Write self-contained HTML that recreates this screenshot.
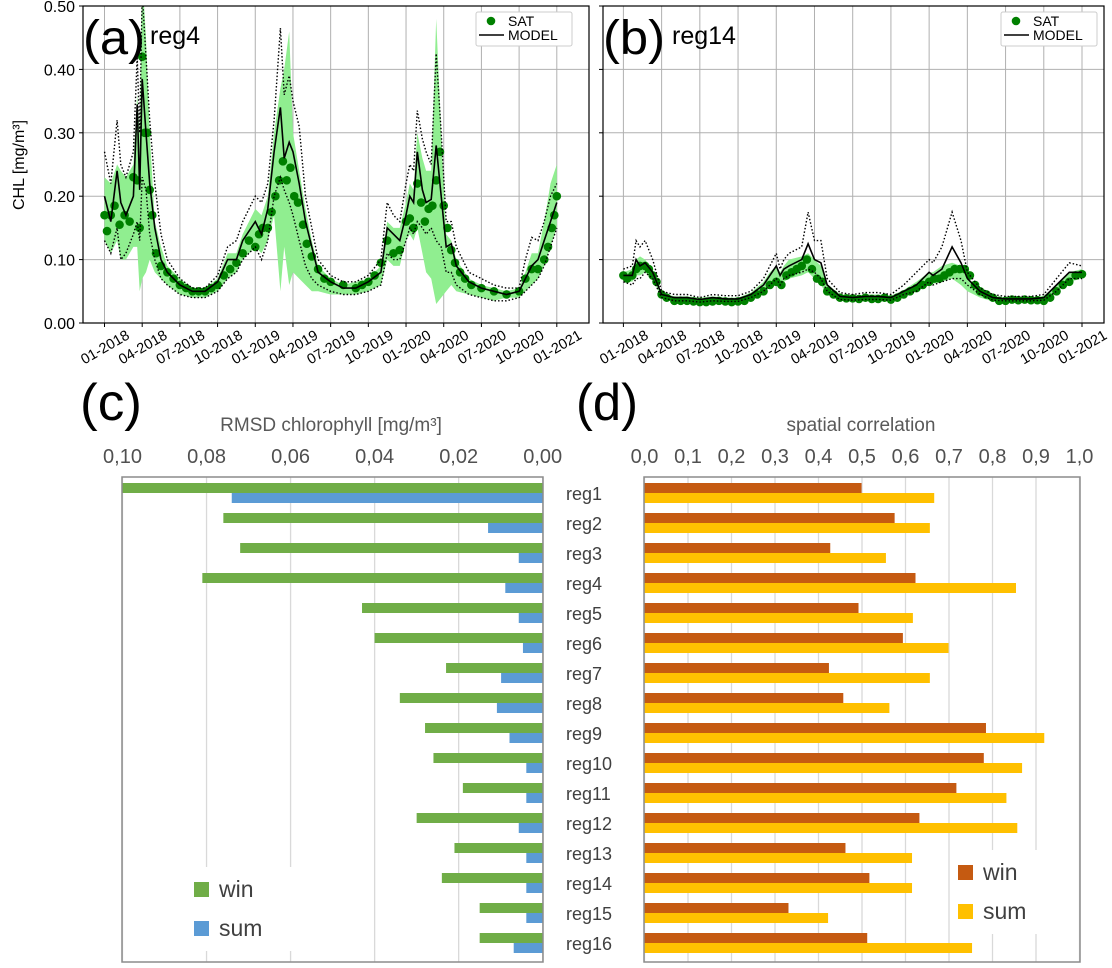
<!DOCTYPE html>
<html><head><meta charset="utf-8"><style>
html,body{margin:0;padding:0;background:#fff;}
svg{display:block;font-family:"Liberation Sans",sans-serif;}
</style></head><body>
<svg id="fig" width="1112" height="968" viewBox="0 0 1112 968" xmlns="http://www.w3.org/2000/svg">
<g id="ts"></g>
<g id="bars"></g>
</svg>
<script>
// ---- time series data (t in months since 01-2018) ----
const tickLabels = ["01-2018","04-2018","07-2018","10-2018","01-2019","04-2019","07-2019","10-2019","01-2020","04-2020","07-2020","10-2020","01-2021"];
const yTicks = [0,0.1,0.2,0.3,0.4,0.5];
const yTickLabels = ["0.00","0.10","0.20","0.30","0.40","0.50"];
const t4 = [0,0.5,1,1.3,1.7,2.3,2.6,2.8,3.0,3.3,3.6,4,4.5,5,6,7,8,9,9.8,10.5,11,12,12.5,13,13.5,14,14.3,14.7,15,15.5,16,16.5,17,18,19,20,21,22,22.5,23,23.5,24,24.3,24.6,24.9,25.3,25.6,26,26.4,26.8,27.2,27.6,28,29,30,31,32,33,33.5,34,34.5,35,35.5,36];
const model4 = [0.20,0.16,0.24,0.19,0.17,0.20,0.345,0.21,0.385,0.30,0.22,0.15,0.10,0.08,0.06,0.05,0.05,0.065,0.10,0.10,0.13,0.16,0.14,0.18,0.27,0.34,0.26,0.285,0.27,0.22,0.16,0.12,0.08,0.065,0.055,0.055,0.065,0.08,0.15,0.14,0.13,0.17,0.20,0.19,0.27,0.21,0.19,0.195,0.28,0.20,0.12,0.125,0.09,0.065,0.055,0.05,0.045,0.05,0.07,0.09,0.10,0.13,0.16,0.19];
const upper4 = [0.27,0.22,0.32,0.25,0.23,0.27,0.42,0.30,0.52,0.42,0.32,0.22,0.14,0.10,0.07,0.055,0.055,0.075,0.12,0.13,0.16,0.20,0.19,0.22,0.32,0.465,0.36,0.39,0.35,0.31,0.20,0.15,0.10,0.075,0.065,0.065,0.075,0.10,0.19,0.17,0.16,0.22,0.25,0.24,0.335,0.29,0.27,0.25,0.425,0.30,0.16,0.16,0.12,0.08,0.07,0.06,0.055,0.055,0.10,0.135,0.13,0.16,0.20,0.22];
const lower4 = [0.13,0.11,0.15,0.10,0.11,0.14,0.16,0.13,0.23,0.21,0.14,0.10,0.07,0.06,0.045,0.04,0.04,0.05,0.07,0.08,0.10,0.12,0.10,0.13,0.20,0.23,0.21,0.19,0.17,0.13,0.09,0.07,0.06,0.05,0.045,0.045,0.05,0.06,0.11,0.10,0.10,0.13,0.15,0.14,0.16,0.15,0.14,0.15,0.13,0.12,0.08,0.08,0.06,0.045,0.04,0.035,0.035,0.04,0.05,0.06,0.07,0.09,0.12,0.15];
const bandHi4 = [0.23,0.22,0.25,0.24,0.23,0.25,0.36,0.30,0.55,0.45,0.30,0.16,0.12,0.09,0.07,0.055,0.055,0.07,0.11,0.11,0.14,0.18,0.17,0.20,0.30,0.37,0.40,0.46,0.30,0.24,0.18,0.13,0.09,0.07,0.06,0.065,0.07,0.09,0.16,0.15,0.15,0.19,0.22,0.21,0.30,0.26,0.24,0.24,0.48,0.30,0.14,0.13,0.10,0.07,0.06,0.055,0.05,0.055,0.08,0.11,0.11,0.16,0.22,0.25];
const bandLo4 = [0.13,0.11,0.13,0.10,0.10,0.12,0.12,0.05,0.07,0.08,0.10,0.08,0.07,0.06,0.045,0.04,0.04,0.05,0.07,0.08,0.10,0.12,0.11,0.13,0.17,0.05,0.12,0.06,0.08,0.07,0.06,0.05,0.05,0.045,0.045,0.045,0.05,0.06,0.10,0.09,0.09,0.13,0.14,0.13,0.15,0.11,0.08,0.07,0.03,0.04,0.05,0.06,0.05,0.045,0.04,0.035,0.04,0.04,0.05,0.06,0.07,0.09,0.12,0.15];
const satT4 = [0,0.2,0.5,0.8,1.2,1.6,2.0,2.3,2.6,2.8,3.0,3.2,3.4,3.6,3.8,4.1,4.5,5,5.5,6,6.5,7,7.5,8,8.5,9,9.5,10,10.5,11,11.5,12,12.3,12.6,13,13.3,13.6,13.9,14.2,14.5,14.8,15.1,15.4,15.8,16.1,16.5,17,17.5,18,19,20,20.5,21,21.5,22,22.5,23,23.5,24,24.3,24.6,24.9,25.2,25.5,25.8,26.1,26.4,26.7,27,27.3,27.6,27.9,28.3,28.7,29.2,30,31,32,33,33.5,34,34.5,35,35.3,35.6,35.8,36];
const satV4 = [0.17,0.145,0.17,0.185,0.155,0.17,0.16,0.23,0.225,0.15,0.42,0.30,0.30,0.21,0.17,0.11,0.09,0.08,0.07,0.06,0.055,0.05,0.05,0.05,0.055,0.06,0.075,0.085,0.095,0.11,0.13,0.12,0.14,0.15,0.15,0.175,0.20,0.225,0.255,0.225,0.245,0.20,0.19,0.155,0.125,0.105,0.085,0.07,0.065,0.06,0.055,0.06,0.065,0.075,0.095,0.13,0.11,0.115,0.16,0.165,0.15,0.22,0.19,0.16,0.18,0.185,0.225,0.27,0.185,0.15,0.115,0.095,0.08,0.07,0.06,0.055,0.05,0.045,0.05,0.07,0.085,0.085,0.10,0.12,0.15,0.17,0.20];
const t14 = [0,0.7,1,1.3,1.7,2.3,3,4,5,6,7,8,9,10,11,11.5,12,12.3,12.6,13,14,14.5,15,15.5,16,17,18,19,20,21,22,23,24,24.3,25,25.8,26.5,27,28,29,30,31,32,33,34,35,36];
const model14 = [0.075,0.075,0.10,0.09,0.095,0.08,0.045,0.04,0.04,0.037,0.04,0.038,0.038,0.045,0.06,0.075,0.09,0.075,0.085,0.09,0.10,0.125,0.10,0.095,0.06,0.042,0.04,0.042,0.042,0.04,0.05,0.06,0.08,0.075,0.085,0.12,0.095,0.07,0.05,0.04,0.038,0.038,0.038,0.04,0.06,0.08,0.08];
const upper14 = [0.085,0.09,0.13,0.12,0.13,0.10,0.05,0.045,0.045,0.04,0.045,0.043,0.043,0.05,0.07,0.09,0.11,0.085,0.10,0.11,0.12,0.175,0.13,0.13,0.07,0.048,0.045,0.048,0.048,0.045,0.06,0.08,0.10,0.095,0.12,0.175,0.13,0.08,0.055,0.045,0.042,0.042,0.042,0.045,0.07,0.095,0.09];
const lower14 = [0.065,0.06,0.07,0.07,0.08,0.07,0.04,0.035,0.035,0.033,0.035,0.034,0.034,0.04,0.05,0.06,0.07,0.06,0.07,0.075,0.08,0.085,0.08,0.07,0.05,0.037,0.036,0.037,0.037,0.036,0.045,0.05,0.065,0.06,0.065,0.07,0.07,0.06,0.045,0.036,0.035,0.035,0.035,0.036,0.05,0.07,0.07];
const bandHi14 = [0.08,0.085,0.10,0.105,0.10,0.085,0.048,0.042,0.042,0.04,0.042,0.04,0.04,0.048,0.065,0.08,0.09,0.08,0.09,0.10,0.105,0.11,0.10,0.09,0.062,0.045,0.043,0.045,0.045,0.043,0.052,0.065,0.08,0.08,0.09,0.095,0.09,0.07,0.05,0.043,0.04,0.04,0.04,0.043,0.06,0.08,0.085];
const bandLo14 = [0.068,0.065,0.075,0.075,0.08,0.07,0.038,0.033,0.033,0.031,0.033,0.032,0.032,0.038,0.05,0.055,0.065,0.06,0.065,0.07,0.075,0.08,0.07,0.06,0.045,0.035,0.034,0.035,0.035,0.034,0.042,0.05,0.06,0.062,0.065,0.07,0.06,0.05,0.04,0.034,0.033,0.033,0.033,0.034,0.05,0.065,0.07];
const satT14 = [0,0.3,0.7,1,1.3,1.7,2,2.3,2.6,3,3.4,4,4.5,5,5.5,6,6.5,7,7.5,8,8.5,9,9.5,10,10.5,11,11.5,12,12.4,12.8,13.2,13.6,14,14.4,14.8,15.2,15.6,16,16.5,17,17.5,18,18.5,19,19.5,20,20.5,21,21.5,22,22.5,23,23.5,24,24.4,24.8,25.2,25.6,26,26.4,26.8,27.2,27.6,28,28.5,29,29.5,30,30.5,31,31.5,32,32.5,33,33.5,34,34.5,35,35.5,36];
const satV14 = [0.075,0.07,0.075,0.085,0.09,0.09,0.085,0.075,0.065,0.045,0.04,0.035,0.035,0.035,0.034,0.033,0.033,0.034,0.035,0.034,0.033,0.034,0.035,0.04,0.045,0.05,0.06,0.065,0.06,0.075,0.08,0.085,0.09,0.10,0.085,0.07,0.065,0.05,0.045,0.04,0.039,0.039,0.038,0.04,0.038,0.038,0.04,0.037,0.04,0.045,0.05,0.055,0.06,0.065,0.07,0.07,0.075,0.08,0.085,0.085,0.085,0.075,0.06,0.05,0.045,0.04,0.035,0.035,0.037,0.036,0.037,0.036,0.036,0.035,0.04,0.05,0.06,0.065,0.075,0.077];

// ---- bar data ----
const regions = ["reg1","reg2","reg3","reg4","reg5","reg6","reg7","reg8","reg9","reg10","reg11","reg12","reg13","reg14","reg15","reg16"];
const rmsdWin = [0.100,0.076,0.072,0.081,0.043,0.040,0.023,0.034,0.028,0.026,0.019,0.030,0.021,0.024,0.015,0.015];
const rmsdSum = [0.074,0.013,0.0057,0.0089,0.0057,0.0047,0.0099,0.0109,0.0079,0.0039,0.0039,0.0057,0.0039,0.0039,0.0039,0.0069];
const corrWin = [0.499,0.575,0.427,0.623,0.492,0.594,0.424,0.457,0.785,0.780,0.717,0.632,0.462,0.517,0.331,0.512];
const corrSum = [0.666,0.656,0.555,0.854,0.617,0.699,0.656,0.563,0.919,0.868,0.832,0.857,0.615,0.615,0.422,0.753];
const rmsdTicks = [0.10,0.08,0.06,0.04,0.02,0.00];
const rmsdTickLabels = ["0,10","0,08","0,06","0,04","0,02","0,00"];
const corrTicks = [0,0.1,0.2,0.3,0.4,0.5,0.6,0.7,0.8,0.9,1.0];
const corrTickLabels = ["0,0","0,1","0,2","0,3","0,4","0,5","0,6","0,7","0,8","0,9","1,0"];

const NS="http://www.w3.org/2000/svg";
function mk(tag,attrs,parent,text){const e=document.createElementNS(NS,tag);for(const k in attrs)e.setAttribute(k,attrs[k]);if(text!==undefined)e.textContent=text;parent.appendChild(e);return e;}

function tsPanel(p){
  const g=mk('g',{},document.getElementById('ts'));
  
  
  const X=t=>p.t0+(p.t36-p.t0)*t/36;
  const Y=v=>p.bottom-(p.bottom-p.top)*v/0.5;
  tickLabels.forEach((lab,i)=>{
    const x=X(i*3);
    const l=mk('line',{x1:x,x2:x,y1:p.top,y2:p.bottom,stroke:'#b0b0b0','stroke-width':1},g);
    
    
    mk('line',{x1:x,x2:x,y1:p.bottom,y2:p.bottom+4,stroke:'#000'},g);
    const tx=mk('text',{x:x+26,y:p.bottom+15,'font-size':14.5,'text-anchor':'end',transform:`rotate(-30 ${x+26} ${p.bottom+15})`,fill:'#000'},g,lab);
    
    
  });
  yTicks.forEach((v,i)=>{
    const y=Y(v);
    const l=mk('line',{x1:p.left,x2:p.right,y1:y,y2:y,stroke:'#b0b0b0','stroke-width':1},g);
    
    
    mk('line',{x1:p.left-4,x2:p.left,y1:y,y2:y,stroke:'#000'},g);
    if(p.ylabels){
      const tx=mk('text',{x:p.left-8,y:y+6,'font-size':16,'text-anchor':'end'},g,yTickLabels[i]);
      
      
    }
  });
  const cp=mk('clipPath',{id:'clip'+p.name},g);
  mk('rect',{x:p.left,y:p.top,width:p.right-p.left,height:p.bottom-p.top},cp);
  const inner=mk('g',{'clip-path':`url(#clip${p.name})`},g);
  const n=Math.min(p.t.length,p.hi.length,p.lo.length);
  let d='';
  for(let i=0;i<n;i++)d+=(i?'L':'M')+X(p.t[i]).toFixed(1)+','+Y(p.hi[i]).toFixed(1);
  for(let i=n-1;i>=0;i--)d+='L'+X(p.t[i]).toFixed(1)+','+Y(p.lo[i]).toFixed(1);
  const band=mk('path',{d:d+'Z',fill:'#90ee90',stroke:'none'},inner);
  
  
  const sn=Math.min(p.st.length,p.sv.length);
  for(let i=0;i<sn;i++){
    const c=mk('circle',{cx:X(p.st[i]),cy:Y(p.sv[i]),r:4.3,fill:'#008000'},inner);
    
    
  }
  function line(arr,dash,name){
    const m=Math.min(p.t.length,arr.length);let s='';
    for(let i=0;i<m;i++)s+=(i?'L':'M')+X(p.t[i]).toFixed(1)+','+Y(arr[i]).toFixed(1);
    const e=mk('path',{d:s,fill:'none',stroke:'#000','stroke-width':dash?1.4:1.6},inner);
    if(dash)e.setAttribute('stroke-dasharray','1.5,2');
    
    
  }
  line(p.up,true,'model-upper-line');
  line(p.low,true,'model-lower-line');
  line(p.m,false,'model-line');
  mk('rect',{x:p.left,y:p.top,width:p.right-p.left,height:p.bottom-p.top,fill:'none',stroke:'#000','stroke-width':1.2},g);
  const pl=mk('text',{x:p.left,y:p.top+48,'font-size':48,textLength:62,lengthAdjust:'spacingAndGlyphs'},g,p.panel);
  
  
  const rl=mk('text',{x:p.regX,y:p.top+38,'font-size':25},g,p.reg);
  
  
  const lg=mk('g',{},g);
  
  
  mk('rect',{x:p.legX,y:p.top+6,width:96,height:34,fill:'#fff',stroke:'#ccc',rx:2},lg);
  mk('circle',{cx:p.legX+15,cy:p.top+15,r:4.3,fill:'#008000'},lg);
  mk('text',{x:p.legX+32,y:p.top+20,'font-size':14},lg,'SAT');
  mk('line',{x1:p.legX+3,x2:p.legX+28,y1:p.top+29,y2:p.top+29,stroke:'#000','stroke-width':1.6},lg);
  mk('text',{x:p.legX+32,y:p.top+34,'font-size':14},lg,'MODEL');
}
tsPanel({name:'panel-a',panel:'(a)',reg:'reg4',regX:150,left:83,right:589,top:6,bottom:323,t0:104.5,t36:556.8,ylabels:true,legX:476,
  t:t4,m:model4,up:upper4,low:lower4,hi:bandHi4,lo:bandLo4,st:satT4,sv:satV4});
tsPanel({name:'panel-b',panel:'(b)',reg:'reg14',regX:672,left:603,right:1104,top:6,bottom:323,t0:623.4,t36:1082,ylabels:false,legX:1001,
  t:t14,m:model14,up:upper14,low:lower14,hi:bandHi14,lo:bandLo14,st:satT14,sv:satV14});
const yl=mk('text',{x:0,y:0,'font-size':16,'text-anchor':'middle',transform:'translate(24 165) rotate(-90)'},document.getElementById('ts'),'CHL [mg/m³]');



// ---- bar panels ----
const B=document.getElementById('bars');
const rowTop=483, rowStep=30, barH=10;
function barPanel(o){
  const g=mk('g',{},B);
  
  
  const X=v=>o.x0+(o.x1-o.x0)*(v-o.v0)/(o.v1-o.v0);
  o.ticks.forEach((v,i)=>{
    const x=X(v);
    const gl=mk('line',{x1:x,x2:x,y1:477,y2:962,stroke:'#d9d9d9','stroke-width':1.3},g);
    
    
    const tl=mk('text',{x:x,y:463,'font-size':20,'text-anchor':'middle',fill:'#505050'},g,o.tickLabels[i]);
    
    
  });
  regions.forEach((r,i)=>{
    const y=rowTop+i*rowStep;
    const a=X(o.win[i]),z=X(0);
    const bw=mk('rect',{x:Math.min(a,z),y:y,width:Math.abs(a-z),height:barH,fill:o.cWin},g);
    
    
    const b=X(o.sum[i]);
    const bs=mk('rect',{x:Math.min(b,z),y:y+barH,width:Math.abs(b-z),height:barH,fill:o.cSum},g);
    
    
  });
  const lg=mk('g',{},g);
  
  
  mk('rect',{x:o.legX-8,y:o.legY-22,width:110,height:84,fill:'#fff'},lg);
  mk('rect',{x:o.legX,y:o.legY-7,width:15,height:15,fill:o.cWin},lg);
  mk('text',{x:o.legX+25,y:o.legY+8,'font-size':23,fill:'#404040'},lg,'win');
  mk('rect',{x:o.legX,y:o.legY+32,width:15,height:15,fill:o.cSum},lg);
  mk('text',{x:o.legX+25,y:o.legY+47,'font-size':23,fill:'#404040'},lg,'sum');
  mk('rect',{x:o.boxL,y:477,width:o.boxR-o.boxL,height:485,fill:'none',stroke:'#8c8c8c','stroke-width':1.5},g);
  const pl=mk('text',{x:o.panelX,y:420,'font-size':52,textLength:62,lengthAdjust:'spacingAndGlyphs'},g,o.panel);
  
  
  const t=mk('text',{x:o.titleX,y:431,'font-size':19,'text-anchor':'middle',fill:'#595959'},g,o.title);
  
  
}
barPanel({name:'panel-c-rmsd',panel:'(c)',panelX:80,title:'RMSD chlorophyll [mg/m³]',titleX:331,
  x0:122.5,x1:542.7,v0:0.10,v1:0,ticks:rmsdTicks,tickLabels:rmsdTickLabels,win:rmsdWin,sum:rmsdSum,
  cWin:'#70ad47',cSum:'#5b9bd5',legX:194,legY:889,boxL:122,boxR:543});
barPanel({name:'panel-d-correlation',panel:'(d)',panelX:576,title:'spatial correlation',titleX:861,
  x0:644.5,x1:1079.5,v0:0,v1:1,ticks:corrTicks,tickLabels:corrTickLabels,win:corrWin,sum:corrSum,
  cWin:'#c55a11',cSum:'#ffc000',legX:958,legY:872,boxL:644,boxR:1080});
regions.forEach((r,i)=>{
  const t=mk('text',{x:566,y:rowTop+i*rowStep+17,'font-size':18,fill:'#404040'},B,r);
  
  
});
</script>
</body></html>
